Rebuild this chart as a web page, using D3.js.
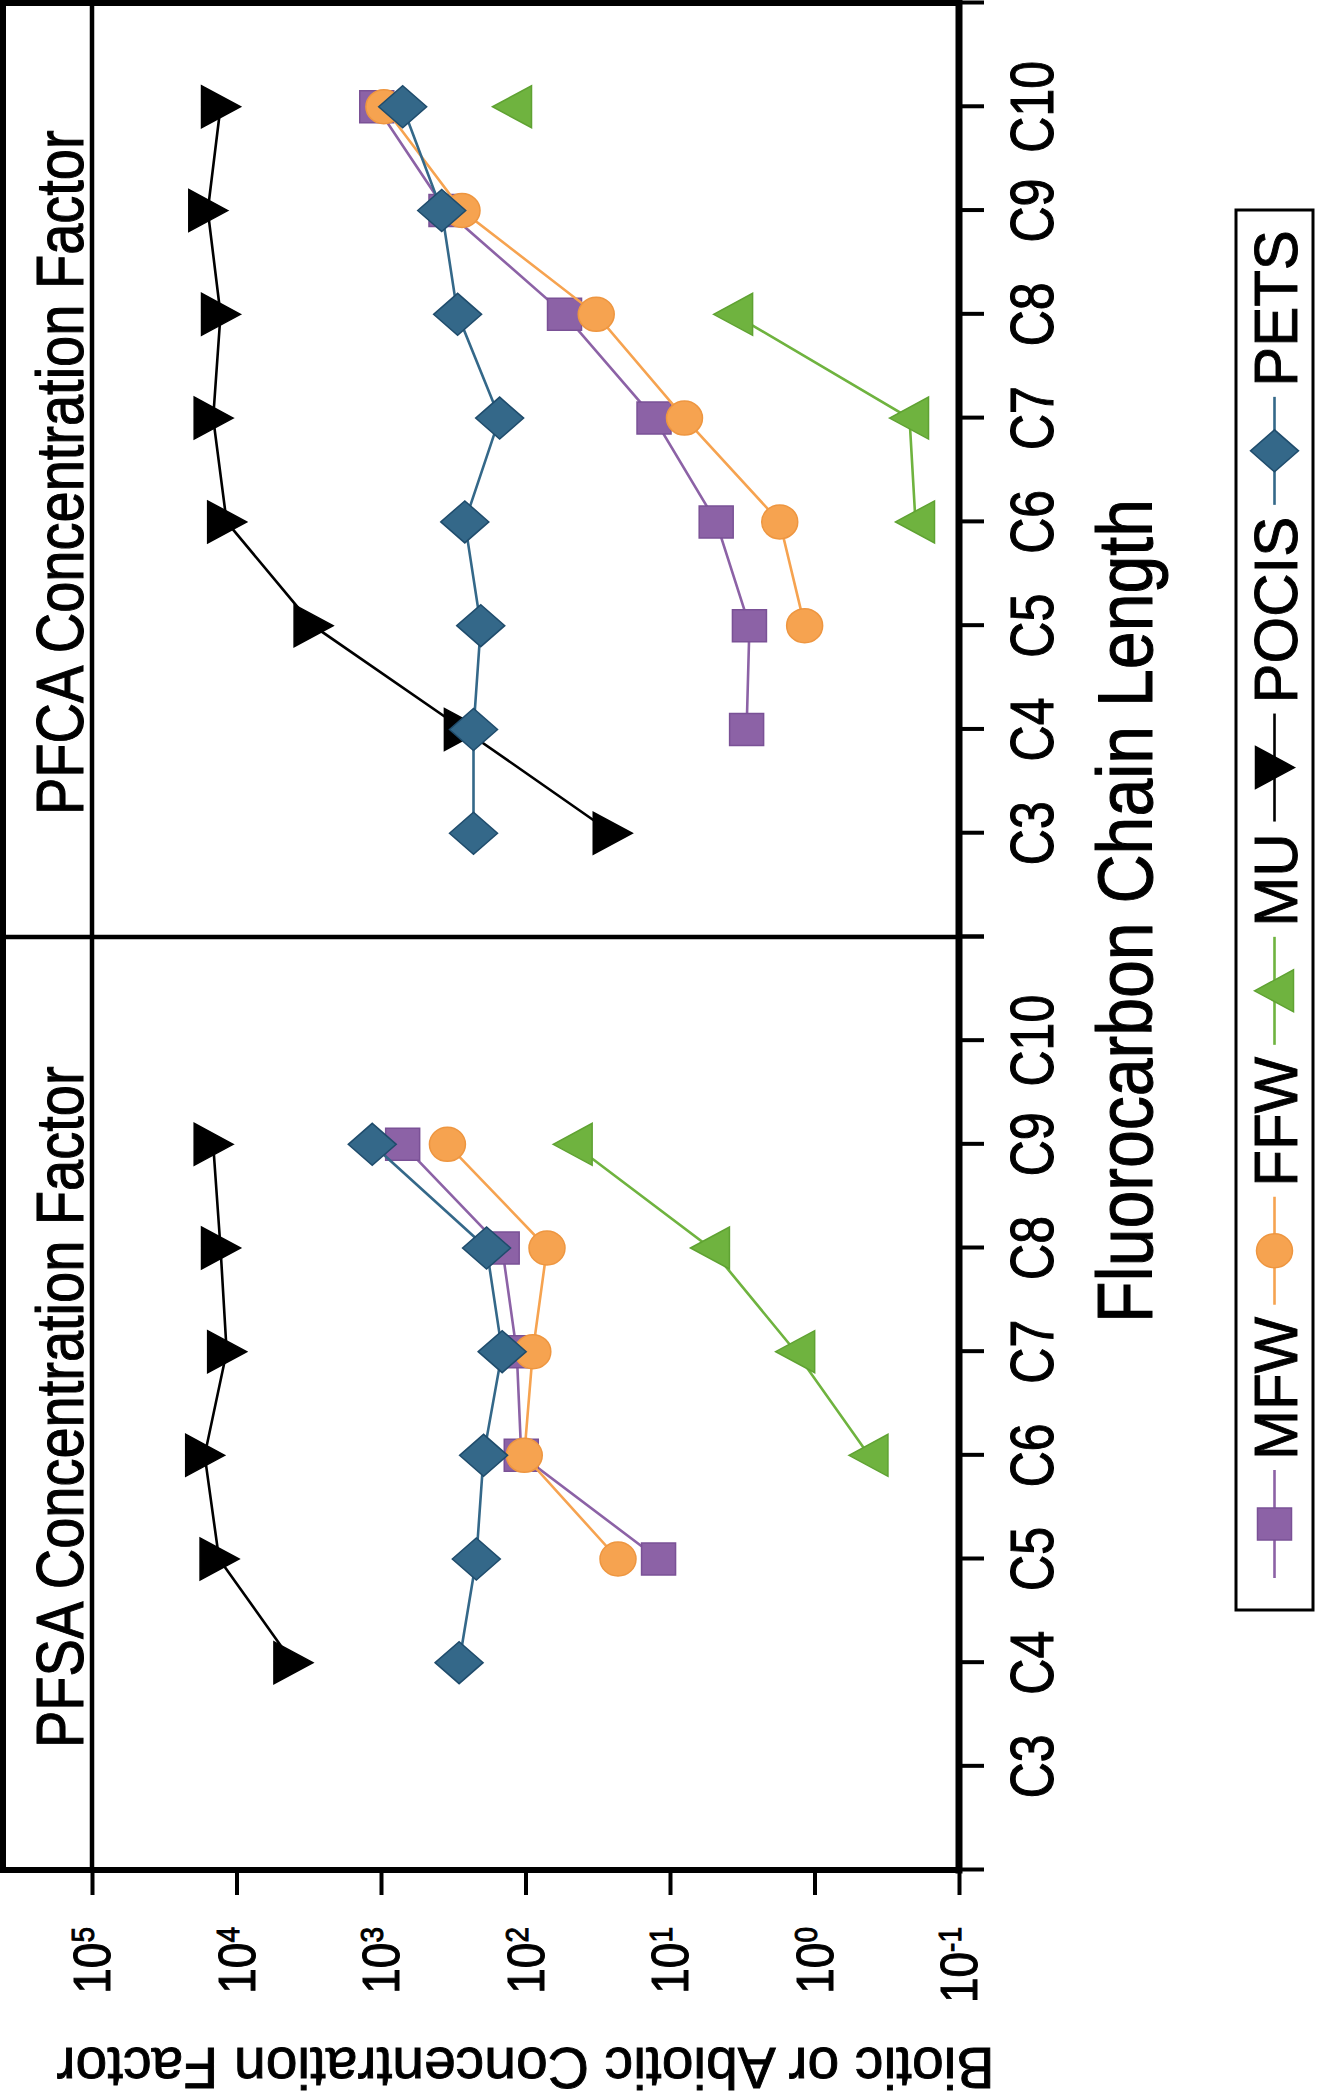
<!DOCTYPE html>
<html><head><meta charset="utf-8">
<script src="https://cdn.jsdelivr.net/npm/d3@7"></script>
<style>body{margin:0;background:#fff}svg{display:block}</style>
</head><body>
<script>
// ---- data ----
const categories = ["C3","C4","C5","C6","C7","C8","C9","C10"];
const chainLength = [3,4,5,6,7,8,9,10];
const panelTitles = ["PFSA Concentration Factor","PFCA Concentration Factor"];
const seriesNames = ["MFW","FFW","MU","POCIS","PETS"];
const valueTicks = [1e5,1e4,1e3,1e2,1e1,1e0,1e-1];
const tickExponents = ["5","4","3","2","1","0","-1"];
const xTitle = "Fluorocarbon Chain Length";
const yTitle = "Biotic or Abiotic Concentration Factor";

// PFSA panel (C3..C10)
const pfsaMFW   = [null,null,12.0,107,115,145,708,null];
const pfsaFFW   = [null,null,22.9,102,89,71,347,null];
const pfsaMU    = [null,null,null,0.42,1.35,5.25,46.8,null];
const pfsaPOCIS = [null,4070,13200,16600,11700,12900,14500,null];
const pfsaPETS  = [null,288,219,195,145,186,1150,null];
// PFCA panel (C3..C10)
const pfcaMFW   = [null,2.95,2.82,4.79,12.9,53.7,355,1070];
const pfcaFFW   = [null,null,1.17,1.74,7.94,32.4,275,955];
const pfcaMU    = [null,null,null,0.20,0.22,3.63,null,123];
const pfcaPOCIS = [25.1,269,2950,11700,14500,12900,15800,12900];
const pfcaPETS  = [229,229,204,263,151,295,380,708];

const panelSeries = [
  [pfsaMFW,pfsaFFW,pfsaMU,pfsaPOCIS,pfsaPETS],
  [pfcaMFW,pfcaFFW,pfcaMU,pfcaPOCIS,pfcaPETS]
];

(function(){
// ---- styles ----
const colors = {MFW:"#8c62a6",FFW:"#f6a350",MU:"#6fb33f",POCIS:"#000000",PETS:"#346889"};
const strokes = {MFW:"#7a5196",FFW:"#ee9640",MU:"#5fa232",POCIS:"#000000",PETS:"#1f4c6c"};
const shapes = {MFW:"square",FFW:"circle",MU:"triUp",POCIS:"triDown",PETS:"diamond"};
const FONT = "'Liberation Sans', Arial, Helvetica, sans-serif";
const TS = 0.9; // text outline weight

function shapePath(s){
  switch(s){
    case "square": return "M-16,-17H16V17H-16Z";
    case "circle": return "M-17,0A17,18 0 1,0 17,0A17,18 0 1,0 -17,0Z";
    case "triUp": return "M0,-20L21,19L-21,19Z";
    case "triDown": return "M0,20L21,-19L-21,-19Z";
    case "diamond": return "M0,-24L21,0L0,24L-21,0Z";
  }
}

const W = 1317, H = 2100;
const svg = d3.select("body").append("svg").attr("width",W).attr("height",H)
  .style("font-family",FONT);
svg.append("rect").attr("width",W).attr("height",H).attr("fill","#fff");
// draw the chart in its natural orientation, then turn it a quarter turn
const g = svg.append("g").attr("transform","translate(0,2100) rotate(-90)");

const pL = 230, pR = 2097, pT = 3, stripY = 92, pB = 959, pMid = 1163;
const y = d3.scaleLog().domain([0.1,1e5]).range([pB, stripY]);
const xs = [
  d3.scaleLinear().domain([2,11]).range([pL, pMid]),
  d3.scaleLinear().domain([2,11]).range([pMid, pR])
];

function sText(parent, x, yy, str, size, sy, anchor){
  return parent.append("text")
    .attr("transform",`translate(${x},${yy}) scale(1,${sy})`)
    .attr("font-size",size).attr("text-anchor",anchor||"start")
    .attr("fill","#000").attr("stroke","#000").attr("stroke-width",TS).text(str);
}

// ---- value axis ----
const yAxis = d3.axisLeft(y).tickValues(valueTicks).tickSize(25).tickSizeOuter(0).tickFormat("");
const ya = g.append("g").attr("transform",`translate(${pL},0)`).call(yAxis);
ya.select(".domain").remove();
ya.selectAll(".tick line").attr("stroke","#000").attr("stroke-width",4);
valueTicks.forEach((v,i)=>{
  const t = g.append("text")
    .attr("transform",`translate(173,${y(v)+18}) scale(1,1.12)`)
    .attr("font-size",46).attr("text-anchor","end").attr("fill","#000")
    .attr("stroke","#000").attr("stroke-width",TS);
  t.append("tspan").text("10");
  t.append("tspan").attr("dy",-14).attr("font-size",28).text(tickExponents[i]);
});

// ---- category axes ----
xs.forEach((x,p)=>{
  const xAxis = d3.axisBottom(x).tickValues(d3.range(2,12)).tickSize(25).tickSizeOuter(0).tickFormat("");
  const xa = g.append("g").attr("transform",`translate(0,${pB})`).call(xAxis);
  xa.select(".domain").remove();
  xa.selectAll(".tick line").attr("stroke","#000").attr("stroke-width",4);
  categories.forEach((c,i)=>{
    sText(g, x(chainLength[i]), 1053, c, 50, 1.24, "middle");
  });
  sText(g, x.range()[0]+122, 83, panelTitles[p], 56, 1.2, "start");
});

// ---- frame ----
const frame = [
  [pL,pT,pR,pT,6],[pR,pT,pR,pB,6],
  [pL,pT,pL,pB,6],[pL,pB,pR,pB,7],
  [pL,stripY,pR,stripY,4.5],[pMid,pT,pMid,pB,4.5]
];
frame.forEach(f=>g.append("line").attr("x1",f[0]).attr("y1",f[1]).attr("x2",f[2]).attr("y2",f[3])
  .attr("stroke","#000").attr("stroke-width",f[4]).attr("stroke-linecap","square"));

// ---- series ----
panelSeries.forEach((arr,p)=>{
  const x = xs[p];
  arr.forEach((vals,si)=>{
    const name = seriesNames[si];
    const pts = vals.map((v,i)=>({c:chainLength[i], v}));
    const line = d3.line().defined(d=>d.v!=null).x(d=>x(d.c)).y(d=>y(d.v));
    const sg = g.append("g");
    sg.append("path").attr("d",line(pts)).attr("fill","none")
      .attr("stroke",colors[name]).attr("stroke-width",2.6);
    sg.selectAll("path.m").data(pts.filter(d=>d.v!=null)).join("path").attr("class","m")
      .attr("transform",d=>`translate(${x(d.c)},${y(d.v)})`)
      .attr("d",shapePath(shapes[name]))
      .attr("fill",colors[name]).attr("stroke",strokes[name]).attr("stroke-width",1.5);
  });
});

// ---- axis titles ----
sText(g, 1189, 1152, xTitle, 68, 1.14, "middle");
g.append("text").attr("transform",`translate(52,${(stripY+pB)/2}) rotate(-90)`)
  .attr("font-size",57).attr("text-anchor","middle").attr("fill","#000")
  .attr("stroke","#000").attr("stroke-width",TS).text(yTitle);

// ---- legend ----
const lgX0 = 490, lgX1 = 1890, lgY0 = 1236, lgY1 = 1313, lgC = (lgY0+lgY1)/2;
g.append("rect").attr("x",lgX0).attr("y",lgY0).attr("width",lgX1-lgX0).attr("height",lgY1-lgY0)
  .attr("fill","#fff").attr("stroke","#000").attr("stroke-width",3);
let cx = 522;
seriesNames.forEach(name=>{
  const L = 108;
  g.append("line").attr("x1",cx).attr("x2",cx+L).attr("y1",lgC).attr("y2",lgC)
    .attr("stroke",colors[name]).attr("stroke-width",2.6);
  g.append("path").attr("transform",`translate(${cx+L/2},${lgC})`).attr("d",shapePath(shapes[name]))
    .attr("fill",colors[name]).attr("stroke",strokes[name]).attr("stroke-width",1.5);
  const t = sText(g, cx+L+10, lgC+22, name, 60, 1.02, "start");
  cx += L + 10 + t.node().getComputedTextLength() + 12;
});
})();
</script>
</body></html>
